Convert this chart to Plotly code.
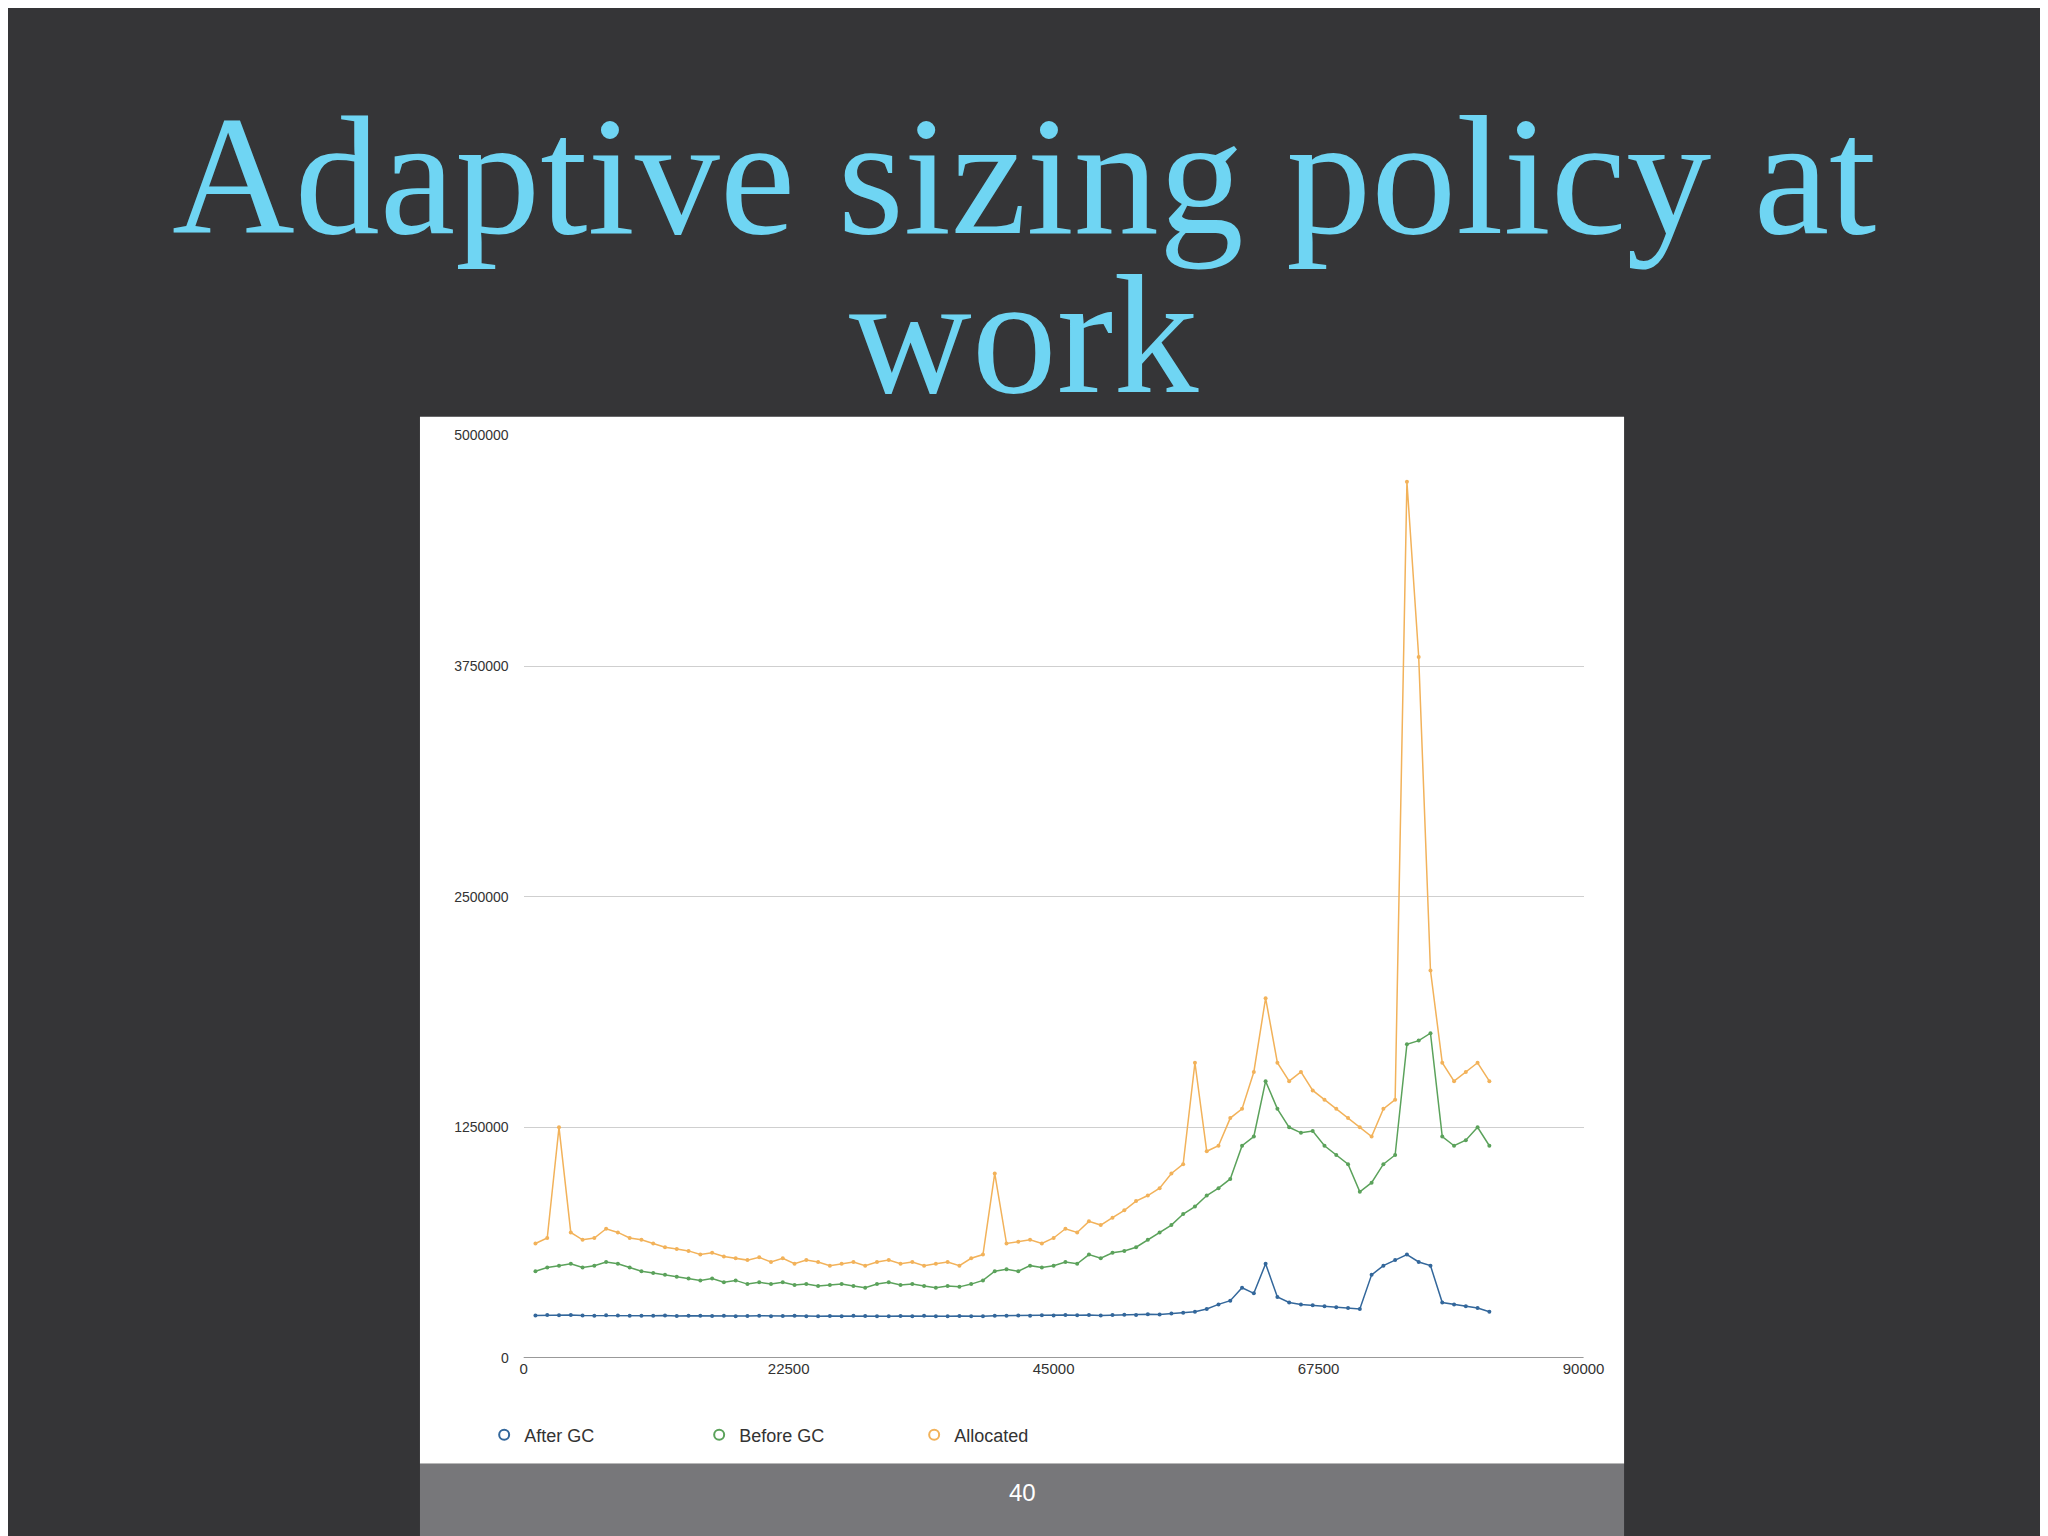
import plotly.graph_objects as go

x_vals = [1000,2000,3000,4000,5000,6000,7000,8000,9000,10000,
          11000,12000,13000,14000,15000,16000,17000,18000,19000,20000,
          21000,22000,23000,24000,25000,26000,27000,28000,29000,30000,
          31000,32000,33000,34000,35000,36000,37000,38000,39000,40000,
          41000,42000,43000,44000,45000,46000,47000,48000,49000,50000,
          51000,52000,53000,54000,55000,56000,57000,58000,59000,60000,
          61000,62000,63000,64000,65000,66000,67000,68000,69000,70000,
          71000,72000,73000,74000,75000,76000,77000,78000,79000,80000,
          81000,82000]
after_gc = [230,232,231,233,230,229,231,230,228,229,
            228,230,227,229,228,227,228,226,227,228,
            226,227,228,226,225,227,226,228,227,226,
            225,227,226,228,225,226,227,225,226,228,
            229,230,228,231,230,232,231,233,230,232,
            234,233,236,235,240,245,250,265,290,310,
            380,350,510,330,300,290,285,280,275,270,
            265,450,500,530,560,520,500,300,290,280,
            270,250]
before_gc = [470,490,500,510,490,500,520,510,490,470,
             460,450,440,430,420,430,410,420,400,410,
             400,410,395,400,390,395,400,390,380,400,
             410,395,400,390,380,390,385,400,420,470,
             480,470,500,490,500,520,510,560,540,570,
             580,600,640,680,720,780,820,880,920,970,
             1150,1200,1500,1350,1250,1220,1230,1150,1100,1050,
             900,950,1050,1100,1700,1720,1760,1200,1150,1180,
             1250,1150]
allocated = [620,650,1250,680,640,650,700,680,650,640,
             620,600,590,580,560,570,550,540,530,545,
             520,540,510,530,520,500,510,520,500,520,
             530,510,520,500,510,520,500,540,560,1000,
             620,630,640,620,650,700,680,740,720,760,
             800,850,880,920,1000,1050,1600,1120,1150,1300,
             1350,1550,1950,1600,1500,1550,1450,1400,1350,1300,
             1250,1200,1350,1400,4750,3800,2100,1600,1500,1550,
             1600,1500]
series_names = ["After GC", "Before GC", "Allocated"]
colors = ["#33679b", "#5ba25b", "#f2b25a"]
y_ticks = [0, 1250000, 2500000, 3750000, 5000000]
x_ticks = [0, 22500, 45000, 67500, 90000]

fig = go.Figure()
for name, vals, c in zip(series_names, [after_gc, before_gc, allocated], colors):
    fig.add_trace(go.Scatter(x=x_vals, y=[v * 1000 for v in vals], mode="lines+markers",
                             line=dict(color=c, width=1.5), marker=dict(color=c, size=4),
                             showlegend=False, name=name))
for name, c in zip(series_names, colors):
    fig.add_trace(go.Scatter(x=[None], y=[None], mode="markers", name=name,
                             marker=dict(symbol="circle-open", color=c, size=10, line=dict(width=2))))

W, H = 2048, 1536
fig.update_layout(
    width=W, height=H, margin=dict(l=0, r=0, t=0, b=0),
    paper_bgcolor="#353537", plot_bgcolor="white",
    font=dict(family="Liberation Sans, Arial", color="#333"),
    xaxis=dict(domain=[518/W, 1591/W], range=[0, 90000], tickvals=x_ticks,
               ticktext=[str(v) for v in x_ticks], showgrid=False, zeroline=False,
               showline=False, tickfont=dict(size=15, color="#333")),
    yaxis=dict(domain=[1-1356/H, 1-424/H], range=[0, 5000000], tickvals=y_ticks,
               ticktext=[str(v) for v in y_ticks], showgrid=True, gridcolor="#cfcfcf",
               zeroline=False, tickfont=dict(size=14, color="#333"), ticks="", ticklabelstandoff=14),
    legend=dict(orientation="h", x=478/W, y=1-1434/H, yanchor="middle", xanchor="left",
                bgcolor="rgba(0,0,0,0)", font=dict(size=18, color="#333"),
                entrywidth=170, entrywidthmode="pixels", tracegroupgap=0),
    shapes=[
        dict(type="rect", xref="paper", yref="paper", x0=413/W, x1=1632/W, y0=1-1463/H, y1=1-405/H,
             fillcolor="white", line=dict(width=0), layer="below"),
        dict(type="rect", xref="paper", yref="paper", x0=413/W, x1=1632/W, y0=0, y1=1-1463/H,
             fillcolor="#77777a", line=dict(width=0), layer="below"),
        dict(type="line", xref="paper", yref="y", x0=518/W, x1=1591/W, y0=0, y1=0,
             line=dict(color="#999", width=1.5)),
    ],
    annotations=[
        dict(text="Adaptive sizing policy at", x=0.5, y=1-65/H, xref="paper", yref="paper",
             showarrow=False, font=dict(family="Liberation Serif, DejaVu Serif", size=170, color="#6fd5f3")),
        dict(text="work", x=0.5, y=1-225/H, xref="paper", yref="paper",
             showarrow=False, font=dict(family="Liberation Serif, DejaVu Serif", size=170, color="#6fd5f3")),
        dict(text="40", x=1023/W, y=1-1508/H, xref="paper", yref="paper", showarrow=False,
             font=dict(size=24, color="white")),
    ],
)
fig.write_html("out.html")
